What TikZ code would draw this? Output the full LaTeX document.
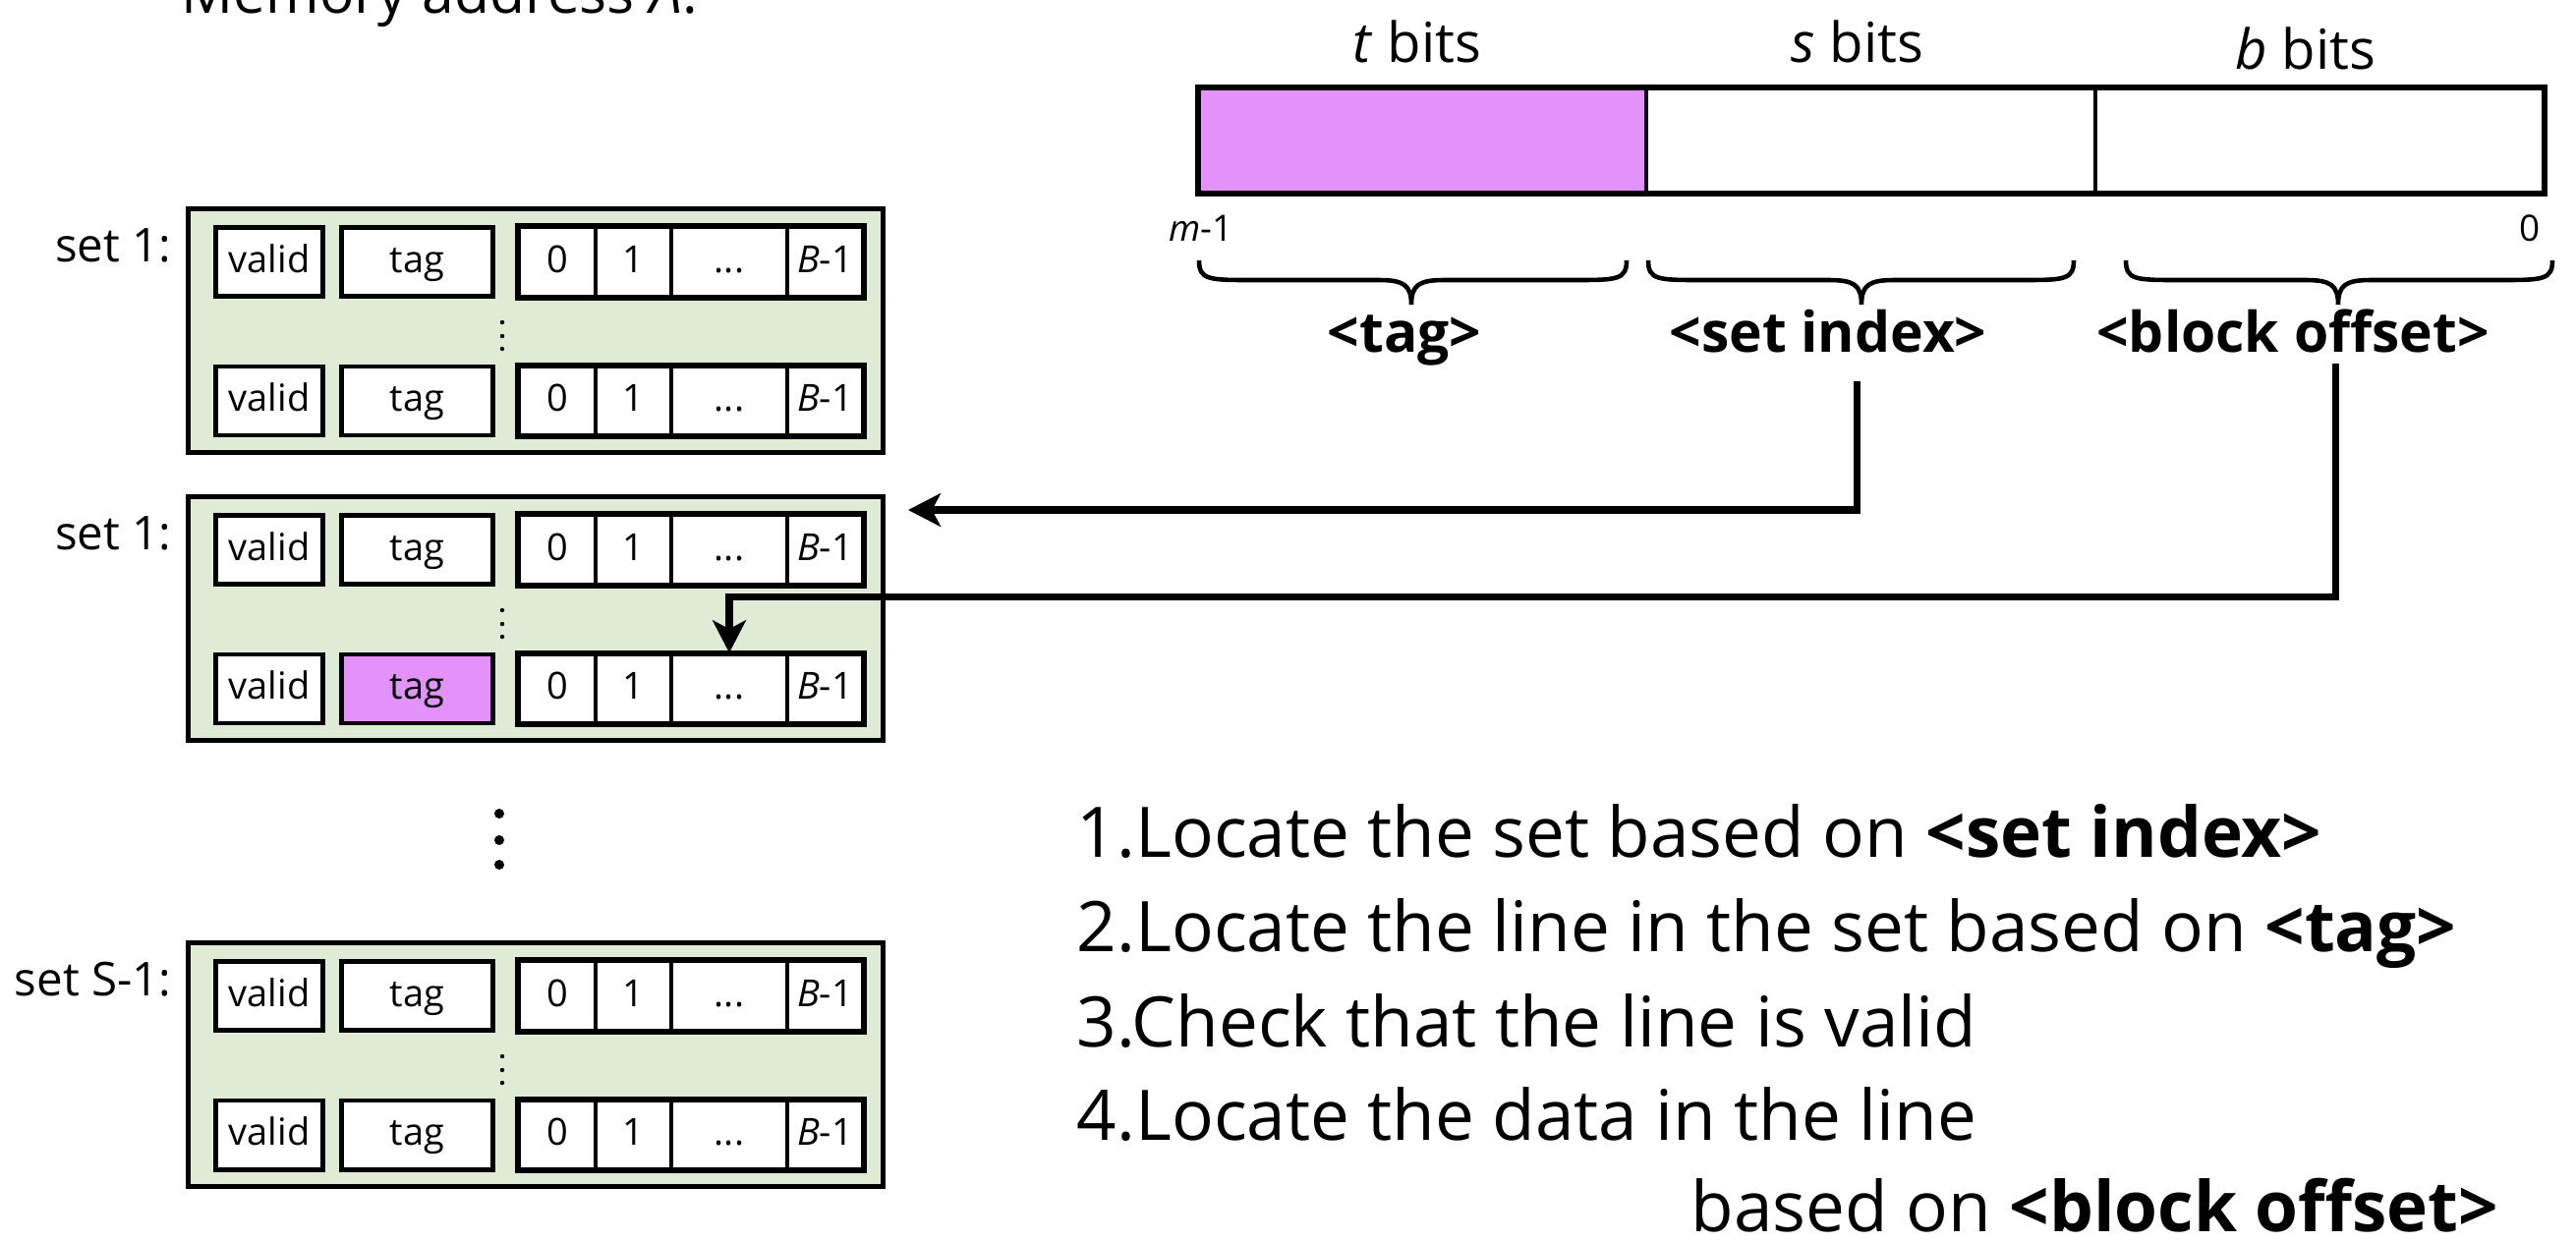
\documentclass[tikz,border=0pt]{standalone}
\usepackage{fontspec}
\setmainfont{Open Sans}
\usetikzlibrary{arrows.meta,calc}

\definecolor{setgreen}{RGB}{224,235,213}
\definecolor{tagpurple}{RGB}{226,146,250}

\tikzset{
  setbox/.style={draw, line width=1.4pt, fill=setgreen, inner sep=0pt,
    minimum width=7.07cm, minimum height=2.48cm},
  cellbox/.style={draw, line width=1.4pt, fill=white, inner sep=0pt,
    minimum height=0.70cm, font=\fontsize{10.8}{13}\selectfont,
    text height=8pt, text depth=2pt},
  datacell/.style={cellbox, line width=0.9pt},
  thickframe/.style={draw, line width=1.4pt},
  setlabel/.style={anchor=base east, inner sep=0pt, font=\fontsize{13.5}{16}\selectfont},
  addrcell/.style={draw, line width=0.9pt, inner sep=0pt, minimum height=1.05cm},
  bitslabel/.style={anchor=base, inner sep=0pt, font=\fontsize{16}{19}\selectfont},
  endlabel/.style={inner sep=0pt, font=\fontsize{10.5}{12}\selectfont},
  fieldlabel/.style={anchor=base, inner sep=0pt, font=\fontsize{16.2}{19}\selectfont\bfseries},
  bracepath/.style={line width=1.3pt},
  steptext/.style={anchor=base west, inner sep=0pt, font=\fontsize{20.2}{24}\selectfont},
  titletext/.style={anchor=base west, inner sep=0pt, font=\fontsize{16.7}{20}\selectfont},
  conn/.style={line width=2pt, -{Stealth[length=9.4pt, width=9.6pt, inset=2.5pt]}},
}

% one cache line: valid bit, tag, block bytes 0 .. B-1
% #1 name prefix, #2 centre y, #3 fill of the tag field
\newcommand\cacheline[3]{%
  \node[cellbox, minimum width=1.09cm] (#1v) at (274,#2) {valid};
  \node[cellbox, minimum width=1.54cm, fill=#3] (#1t) at (424.5,#2) {tag};
  \node[datacell, minimum width=0.78cm] (#1d0) at (567,#2) {0};
  \node[datacell, minimum width=0.77cm] (#1d1) at (644.5,#2) {1};
  \node[datacell, minimum width=1.18cm] (#1d2) at (742,#2) {...};
  \node[datacell, minimum width=0.77cm] (#1d3) at (839.5,#2) {\textit{B}-1};
  \draw[thickframe] (#1d0.north west) rectangle (#1d3.south east);
}

% one cache set with two visible lines
% #1 name, #2 top y, #3 label, #4 fill of the second line's tag
\newcommand\cacheset[4]{%
  \node[setbox] (#1) at (545,#2+126.5) {};
  \node[setlabel] (#1lab) at (175,#2+56) {#3};
  \cacheline{#1a}{#2+56.5}{white}
  \cacheline{#1b}{#2+198}{#4}
  \foreach \dy in {118,132,145}
    \fill (511,#2+\dy) circle[radius=0.022cm];
}

% curly brace opening upwards, #1 left end, #2 right end, #3 tip
\newcommand\addrbrace[3]{%
  \draw[bracepath] (#1,265) .. controls (#1,285) and (#1+10,285) .. (#1+54,285)
    -- (#3-33,285) .. controls (#3-8,285) and (#3,290) .. (#3,310)
    .. controls (#3,290) and (#3+8,285) .. (#3+33,285)
    -- (#2-54,285) .. controls (#2-10,285) and (#2,285) .. (#2,265);
}

\begin{document}
\begin{tikzpicture}[x=0.01cm, y=-0.01cm]
\useasboundingbox (0,0) rectangle (2621,1263);

% title
\node[titletext] (title) at (184,13) {Memory address \textit{A}:};

% cache sets
\cacheset{s1}{210}{set 1:}{white}
\cacheset{s2}{503}{set 1:}{tagpurple}
\cacheset{s3}{957}{set S-1:}{white}
\foreach \yy in {828,855,880}
  \fill (508,\yy) circle[radius=0.05cm];

% address fields
\node[addrcell, minimum width=4.545cm, fill=tagpurple] (ftag) at (1447.75,143) {};
\node[addrcell, minimum width=4.57cm] (fset) at (1903.5,143) {};
\node[addrcell, minimum width=4.555cm] (fblk) at (2359.75,143) {};
\draw[thickframe] (ftag.north west) rectangle (fblk.south east);

\node[bitslabel] (tbits) at (1442,63) {\textit{t} bits};
\node[bitslabel] (sbits) at (1890,63) {\textit{s} bits};
\node[bitslabel] (bbits) at (2346,70) {\textit{b} bits};
\node[endlabel, anchor=base west] (msb) at (1189,245) {\textit{m}-1};
\node[endlabel, anchor=base east] (lsb) at (2585,245) {0};

\addrbrace{1220}{1655}{1436}
\addrbrace{1677}{2110}{1894}
\addrbrace{2163}{2597}{2379}

\node[fieldlabel] (tagL) at (1429,358) {<tag>};
\node[fieldlabel] (sidxL) at (1860,358) {<set index>};
\node[fieldlabel] (boffL) at (2333,358) {<block offset>};

% lookup connectors
\coordinate (siStart) at (1889,388);
\coordinate (siEnd) at (924,519);
\coordinate (boStart) at (2376,370);
\draw[conn] (siStart) |- (siEnd);
\draw[conn] (boStart) |- ($(s2bd2.north)+(0,-57)$) -- (s2bd2.north);

% steps
\node[steptext] (st1) at (1095,872) {1.Locate the set based on \textbf{<set index>}};
\node[steptext] (st2) at (1095,968) {2.Locate the line in the set based on \textbf{<tag>}};
\node[steptext] (st3) at (1095,1065) {3.Check that the line is valid};
\node[steptext] (st4) at (1095,1160) {4.Locate the data in the line};
\node[steptext, anchor=base east] (st5) at (2543,1253) {based on \textbf{<block offset>}};
\end{tikzpicture}
\end{document}
